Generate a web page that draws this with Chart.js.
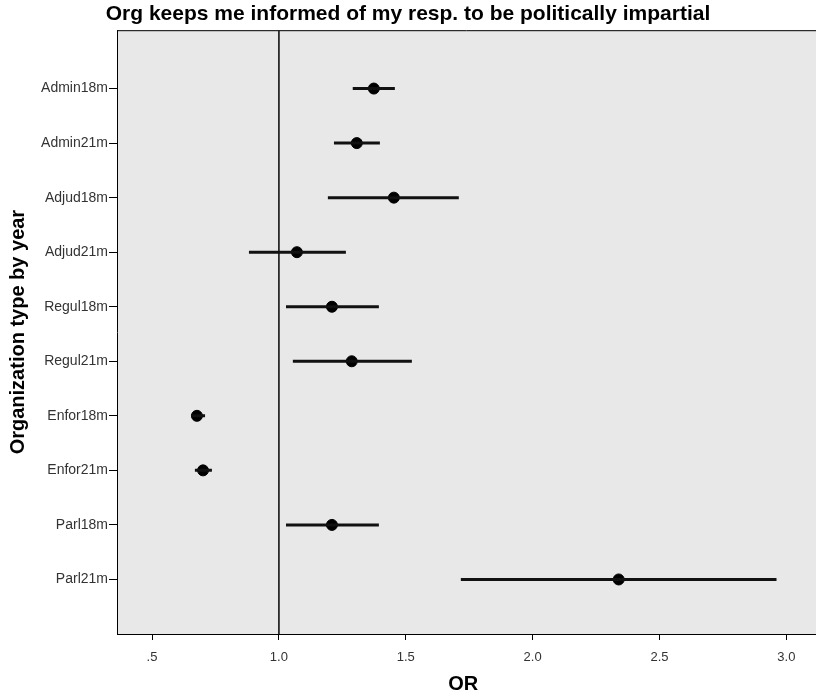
<!DOCTYPE html>
<html>
<head>
<meta charset="utf-8">
<script src="https://cdn.jsdelivr.net/npm/chart.js@4"></script>
<style>
  html, body { margin: 0; padding: 0; background: #fff; }
  #wrap { width: 816px; height: 694px; }
</style>
</head>
<body>
<div id="wrap"><canvas id="chart"></canvas></div>
<script>
'use strict';

// rows, top to bottom
let rowLabels = ['Admin18m', 'Admin21m', 'Adjud18m', 'Adjud21m', 'Regul18m',
  'Regul21m', 'Enfor18m', 'Enfor21m', 'Parl18m', 'Parl21m'];

// odds ratio and its interval
let orValues = [1.374, 1.307, 1.453, 1.071, 1.209, 1.287, 0.677, 0.701, 1.209, 2.339];
let ciLow = [1.291, 1.217, 1.193, 0.882, 1.028, 1.055, 0.654, 0.669, 1.028, 1.717];
let ciHigh = [1.457, 1.398, 1.709, 1.264, 1.394, 1.524, 0.709, 0.736, 1.394, 2.961];

// x ticks
let xTickValues = [0.5, 1.0, 1.5, 2.0, 2.5, 3.0];
let xTickLabels = ['.5', '1.0', '1.5', '2.0', '2.5', '3.0'];

// reference line
let refLine = 1.0;

let yMin = -1.07;
let yMax = 10.0;

//build datasets////////////////////
let datasets = [];

// one line per interval
for (let i = 0; i < rowLabels.length; i++) {
  datasets.push({
    type: 'line',
    data: [{x: ciLow[i], y: i}, {x: ciHigh[i], y: i}],
    borderColor: '#111',
    borderWidth: 3,
    pointRadius: 0,
    showLine: true,
    fill: false
  });
}

// reference line at OR = 1
datasets.push({
  type: 'line',
  data: [{x: refLine, y: yMin}, {x: refLine, y: yMax}],
  borderColor: '#222',
  borderWidth: 1,
  pointRadius: 0,
  showLine: true,
  fill: false
});

// the point estimates
datasets.push({
  type: 'scatter',
  data: orValues.map((v, i) => ({x: v, y: i})),
  backgroundColor: '#000',
  borderColor: '#000',
  pointRadius: 5.5,
  pointHoverRadius: 5.5
});

// grey plot background, runs on to the right edge of the canvas like the original
const plotBackground = {
  id: 'plotBackground',
  beforeDraw(chart) {
    const {ctx, chartArea: a} = chart;
    const right = chart.width;
    ctx.save();
    ctx.fillStyle = '#e8e8e8';
    ctx.fillRect(a.left, a.top, right - a.left, a.bottom - a.top);
    ctx.strokeStyle = '#000';
    ctx.lineWidth = 1;
    ctx.beginPath();
    ctx.moveTo(a.left, a.top + 0.5);
    ctx.lineTo(right, a.top + 0.5);
    ctx.moveTo(a.left, a.bottom + 0.5);
    ctx.lineTo(right, a.bottom + 0.5);
    ctx.stroke();
    ctx.restore();
  }
};

const myChart = new Chart(document.getElementById('chart'), {
  type: 'scatter',
  data: {datasets: datasets},
  options: {
    responsive: true,
    maintainAspectRatio: false,
    animation: false,
    layout: {padding: 0},
    plugins: {
      legend: {display: false},
      tooltip: {enabled: false},
      title: {
        display: true,
        text: 'Org keeps me informed of my resp. to be politically impartial',
        color: '#000',
        font: {family: 'Liberation Sans', size: 21, weight: 'bold', lineHeight: 1.2},
        padding: {top: 2, bottom: 3}
      }
    },
    scales: {
      x: {
        type: 'linear',
        min: 0.362,
        max: 3.091,
        afterBuildTicks: (scale) => {
          scale.ticks = xTickValues.map(v => ({value: v}));
        },
        afterFit: (scale) => {
          scale.height = 60;
        },
        ticks: {
          color: '#333',
          font: {family: 'Liberation Sans', size: 13},
          padding: 10,
          callback: (value) => xTickLabels[xTickValues.indexOf(value)]
        },
        grid: {drawOnChartArea: false, drawTicks: true, tickLength: 6, color: '#000'},
        border: {display: true, color: '#000', width: 1},
        title: {
          display: true,
          text: 'OR',
          color: '#000',
          font: {family: 'Liberation Sans', size: 20, weight: 'bold', lineHeight: 1.0},
          padding: {top: 0, bottom: 0}
        }
      },
      y: {
        type: 'linear',
        reverse: true,
        min: yMin,
        max: yMax,
        afterBuildTicks: (scale) => {
          scale.ticks = rowLabels.map((_, i) => ({value: i}));
        },
        afterFit: (scale) => {
          scale.width = 117;
          scale.paddingTop = 0;
          scale.paddingBottom = 0;
        },
        ticks: {
          color: '#333',
          font: {family: 'Liberation Sans', size: 14},
          padding: 1,
          callback: (value) => rowLabels[value]
        },
        grid: {drawOnChartArea: false, drawTicks: true, tickLength: 8, color: '#000'},
        border: {display: true, color: '#000', width: 1},
        title: {
          display: true,
          text: 'Organization type by year',
          color: '#000',
          font: {family: 'Liberation Sans', size: 20, weight: 'bold', lineHeight: 1.2},
          padding: {top: 6, bottom: 0}
        }
      }
    }
  },
  plugins: [plotBackground]
});
</script>
</body>
</html>
